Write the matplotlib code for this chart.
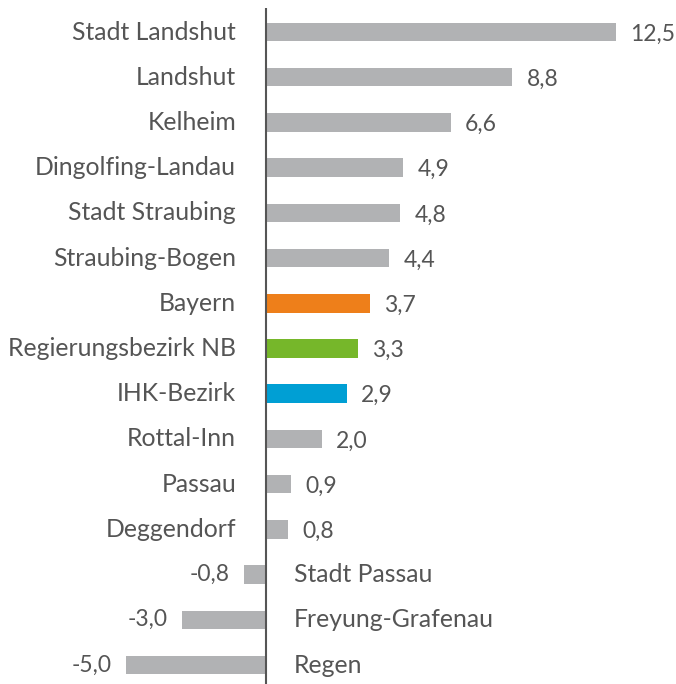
import matplotlib.pyplot as plt

regions = ["Stadt Landshut", "Landshut", "Kelheim", "Dingolfing-Landau",
           "Stadt Straubing", "Straubing-Bogen", "Bayern", "Regierungsbezirk NB",
           "IHK-Bezirk", "Rottal-Inn", "Passau", "Deggendorf",
           "Stadt Passau", "Freyung-Grafenau", "Regen"]
values = [12.5, 8.8, 6.6, 4.9, 4.8, 4.4, 3.7, 3.3, 2.9, 2.0, 0.9, 0.8, -0.8, -3.0, -5.0]

grey = "#b1b2b4"
highlight = {"Bayern": "#ee7f1a", "Regierungsbezirk NB": "#76b72a", "IHK-Bezirk": "#009fd4"}
colors = [highlight.get(r, grey) for r in regions]
text_color = "#555555"
fs = 17.8
fs_val = 16.5

plt.rcParams['font.family'] = ['Lato', 'DejaVu Sans']

fig = plt.figure(figsize=(6.76, 6.84), dpi=100)
ax = fig.add_axes([0, 0, 1, 1])

pos = list(range(len(regions)))
ax.barh(pos, values, height=0.41, color=colors)

# vertical zero line
ax.vlines(0, -0.53, 14.5, color="#555555", lw=1.5)

for i, (name, v) in enumerate(zip(regions, values)):
    label = f"{v:.1f}".replace(".", ",")
    if v >= 0:
        ax.annotate(name, (0, i), xytext=(-30, 0), textcoords="offset pixels",
                    ha="right", va="center", fontsize=fs, color=text_color)
        ax.annotate(label, (v, i), xytext=(14, -2),
                    textcoords="offset pixels", ha="left", va="center",
                    fontsize=fs_val, color=text_color)
    else:
        ax.annotate(name, (0, i), xytext=(28, 0), textcoords="offset pixels",
                    ha="left", va="center", fontsize=fs, color=text_color)
        ax.annotate(label, (v, i), xytext=(-14, 0), textcoords="offset pixels",
                    ha="right", va="center", fontsize=fs_val, color=text_color)

ax.set_xlim(-9.5, 14.64)
ax.set_ylim(14.42, -0.708)
ax.axis("off")

fig.savefig("out.png", dpi=100)
